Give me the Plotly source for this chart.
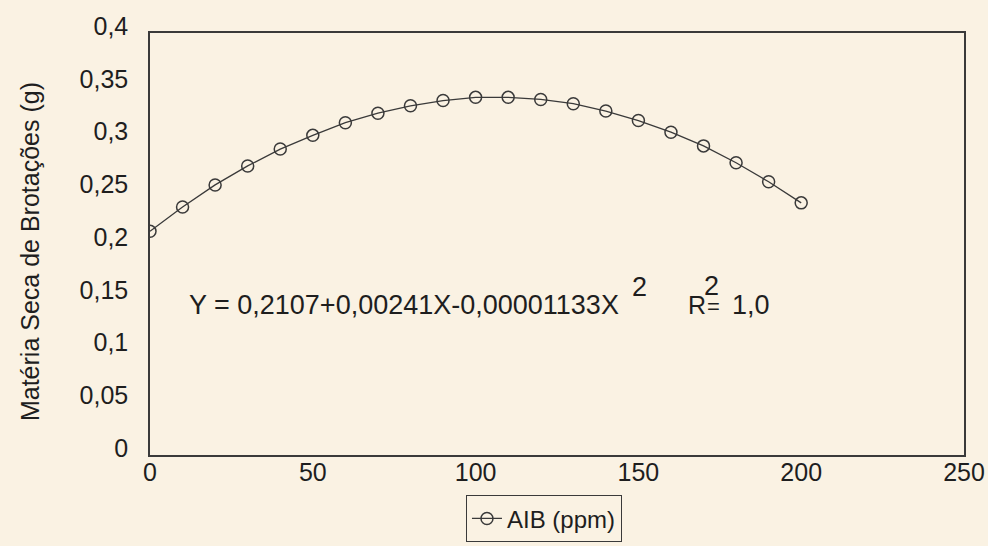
import plotly.graph_objects as go

# Data
aib_ppm = [0, 10, 20, 30, 40, 50, 60, 70, 80, 90, 100,
           110, 120, 130, 140, 150, 160, 170, 180, 190, 200]
materia_seca = [0.212, 0.235, 0.256, 0.274, 0.290, 0.303, 0.315, 0.324, 0.331, 0.336, 0.339,
                0.339, 0.337, 0.333, 0.326, 0.317, 0.306, 0.293, 0.277, 0.259, 0.239]
x_ticks = [0, 50, 100, 150, 200, 250]
y_ticks = [0, 0.05, 0.1, 0.15, 0.2, 0.25, 0.3, 0.35, 0.4]
y_tick_labels = ["0", "0,05", "0,1", "0,15", "0,2", "0,25", "0,3", "0,35", "0,4"]

BG = "#faf2e3"
INK = "#3a3a3a"
TXT = "#1e1e1e"
FONT = "Liberation Sans, Arial, sans-serif"

fig = go.Figure()
fig.add_trace(go.Scatter(
    x=aib_ppm, y=materia_seca, mode="lines+markers", name="AIB (ppm)",
    line=dict(color=INK, width=1.3),
    marker=dict(symbol="circle-open", size=12, color=INK, line=dict(width=1.5, color=INK)),
))

fig.update_layout(
    width=988, height=546,
    paper_bgcolor=BG, plot_bgcolor=BG,
    margin=dict(l=150, r=24, t=33, b=91, autoexpand=False),
    font=dict(family=FONT, size=25, color=TXT),
    showlegend=True,
    legend=dict(
        x=0.484, y=-0.207, xanchor="center", yanchor="bottom",
        bordercolor=INK, borderwidth=1, bgcolor=BG,
        font=dict(size=24, family=FONT, color=TXT), itemwidth=30,
    ),
    xaxis=dict(
        range=[0, 250], tickvals=x_ticks, ticktext=[str(v) for v in x_ticks],
        showgrid=False, zeroline=False, showline=True, linecolor=INK, linewidth=1.5,
        mirror=True, ticks="", ticklabelstandoff=-6, automargin=False,
        tickfont=dict(size=25, family=FONT, color=TXT),
    ),
    yaxis=dict(
        range=[0, 0.4], tickvals=y_ticks, ticktext=y_tick_labels,
        showgrid=False, zeroline=False, showline=True, linecolor=INK, linewidth=1.5,
        mirror=True, ticks="", ticklabelstandoff=15, ticklabelshift=-7, automargin=False,
        tickfont=dict(size=25, family=FONT, color=TXT),
    ),
)

fig.add_annotation(
    xref="paper", yref="paper", x=-0.167, y=0.481, textangle=-90,
    text="Matéria Seca de Brotações (g)", showarrow=False,
    font=dict(size=25, family=FONT, color=TXT),
)

# Equation text
EQ = dict(size=27, family=FONT, color=TXT)
fig.add_annotation(
    xref="x", yref="y", x=11.4, y=0.1422, xanchor="left", yanchor="middle",
    text="Y = 0,2107+0,00241X-0,00001133X", showarrow=False, font=EQ,
)
fig.add_annotation(
    xref="x", yref="y", x=147.3, y=0.1590, xanchor="left", yanchor="middle",
    text="2", showarrow=False, font=EQ,
)
fig.add_annotation(
    xref="x", yref="y", x=164.5, y=0.1422, xanchor="left", yanchor="middle",
    text="R", showarrow=False, font=dict(size=25, family=FONT, color=TXT),
)
fig.add_annotation(
    xref="x", yref="y", x=169.6, y=0.1600, xanchor="left", yanchor="middle",
    text="2", showarrow=False, font=EQ,
)
fig.add_annotation(
    xref="x", yref="y", x=170.4, y=0.1412, xanchor="left", yanchor="middle",
    text="=", showarrow=False, font=dict(size=22, family=FONT, color=TXT),
)
fig.add_annotation(
    xref="x", yref="y", x=178.0, y=0.1422, xanchor="left", yanchor="middle",
    text="1,0", showarrow=False, font=EQ,
)

fig.write_html(
    "out.html",
    config={"displayModeBar": False},
    post_script="document.body.style.margin='0';document.body.style.overflow='hidden';"
                "document.body.style.background='" + BG + "';",
)
